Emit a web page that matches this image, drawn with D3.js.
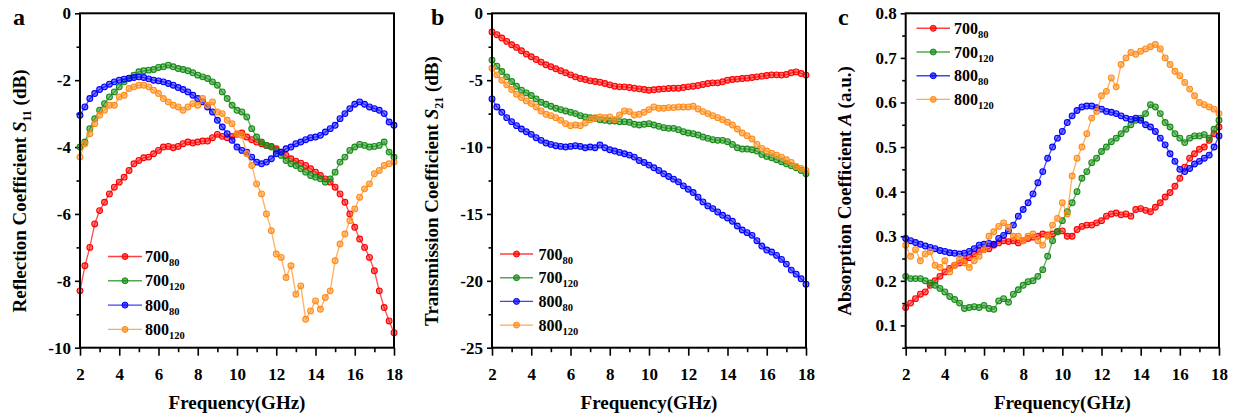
<!DOCTYPE html>
<html>
<head>
<meta charset="utf-8">
<script src="https://cdnjs.cloudflare.com/ajax/libs/d3/7.8.5/d3.min.js"></script>
<style>
  body { margin: 0; background: #fff; }
  svg text { font-family: "Liberation Serif", "Times New Roman", serif; font-weight: bold; fill: #000; }
</style>
</head>
<body>
<svg id="chart" width="1239" height="418"></svg>
<script>
// Frequency (GHz), read every 0.25 GHz
const freq = [
  2, 2.25, 2.5, 2.75, 3, 3.25, 3.5, 3.75, 4, 4.25, 4.5, 4.75, 5, 5.25, 5.5, 5.75,
  6, 6.25, 6.5, 6.75, 7, 7.25, 7.5, 7.75, 8, 8.25, 8.5, 8.75, 9, 9.25, 9.5, 9.75,
  10, 10.25, 10.5, 10.75, 11, 11.25, 11.5, 11.75, 12, 12.25, 12.5, 12.75, 13, 13.25, 13.5, 13.75,
  14, 14.25, 14.5, 14.75, 15, 15.25, 15.5, 15.75, 16, 16.25, 16.5, 16.75, 17, 17.25, 17.5, 17.75, 18
];

// (a) Reflection coefficient S11 (dB)
const s11_700_80 = [
  -8.3, -7.55, -7.0, -6.3,  -5.9, -5.65, -5.4, -5.2,  -5.05, -4.9, -4.7, -4.5,  -4.4, -4.32, -4.3, -4.2,
  -4.1, -4.0, -3.98, -4.02,  -3.98, -3.9, -3.85, -3.88,  -3.85, -3.82, -3.82, -3.72,  -3.62, -3.68, -3.72, -3.68,
  -3.62, -3.58, -3.7, -3.78,  -3.85, -3.9, -3.95, -3.98,  -4.05, -4.15, -4.25, -4.35,  -4.42, -4.48, -4.55, -4.65,
  -4.75, -4.85, -4.95, -5.05,  -5.2, -5.4, -5.65, -6.0,  -6.4, -6.75, -7.0, -7.3,  -7.7, -8.3, -8.8, -9.2,  -9.55
];
const s11_700_120 = [
  -4.0, -3.85, -3.45, -3.15,  -2.9, -2.7, -2.5, -2.35,  -2.2, -2.05, -1.95, -1.85,  -1.75, -1.72, -1.7, -1.68,
  -1.62, -1.6, -1.55, -1.6,  -1.65, -1.68, -1.72, -1.78,  -1.85, -1.9, -1.95, -2.05,  -2.15, -2.35, -2.55, -2.75,
  -2.9, -2.95, -3.1, -3.45,  -3.7, -3.85, -3.95, -4.0,  -4.1, -4.25, -4.4, -4.5,  -4.55, -4.65, -4.75, -4.85,
  -4.9, -4.95, -5.05, -4.95,  -4.75, -4.45, -4.3, -4.1,  -4.0, -3.92, -3.95, -4.0,  -3.98, -3.95, -3.85, -4.15,  -4.3
];
const s11_800_80 = [
  -3.05, -2.8, -2.55, -2.4,  -2.28, -2.2, -2.12, -2.05,  -2.0, -1.97, -1.94, -1.92,  -1.9, -1.92, -1.96, -2.0,
  -2.02, -2.05, -2.1, -2.15,  -2.22, -2.28, -2.35, -2.45,  -2.55, -2.65, -2.8, -2.95,  -3.2, -3.4, -3.6, -3.8,
  -4.0, -4.1, -4.15, -4.3,  -4.45, -4.5, -4.45, -4.35,  -4.2, -4.15, -4.05, -4.0,  -3.9, -3.85, -3.78, -3.72,
  -3.7, -3.65, -3.55, -3.45,  -3.35, -3.15, -3.0, -2.85,  -2.72, -2.65, -2.72, -2.8,  -2.85, -2.9, -3.0, -3.25,  -3.35
];
const s11_800_120 = [
  -4.3, -3.9, -3.6, -3.3,  -3.05, -2.9, -2.75, -2.75,  -2.5, -2.45, -2.25, -2.2,  -2.15, -2.15, -2.2, -2.3,
  -2.4, -2.55, -2.65, -2.75,  -2.8, -2.9, -2.8, -2.7,  -2.75, -2.55, -2.75, -2.65,  -2.95, -3.0, -3.2, -3.3,
  -3.6, -3.65, -4.2, -4.55,  -5.1, -5.4, -6.0, -6.5,  -7.2, -7.3, -7.9, -7.55,  -8.4, -8.15, -9.15, -8.9,
  -8.6, -8.85, -8.5, -8.3,  -7.4, -6.9, -6.6, -6.2,  -5.85, -5.5, -5.25, -5.1,  -4.8, -4.7, -4.55, -4.5,  -4.45
];

// (b) Transmission coefficient S21 (dB)
const s21_700_80 = [
  -1.4, -1.6, -1.85, -2.1,  -2.35, -2.55, -2.8, -3.05,  -3.25, -3.45, -3.65, -3.85,  -4.0, -4.15, -4.3, -4.45,
  -4.6, -4.75, -4.88, -4.95,  -5.05, -5.1, -5.15, -5.25,  -5.35, -5.45, -5.5, -5.5,  -5.55, -5.6, -5.65, -5.7,
  -5.75, -5.72, -5.68, -5.65,  -5.62, -5.6, -5.6, -5.55,  -5.5, -5.45, -5.4, -5.32,  -5.25, -5.2, -5.2, -5.12,
  -5.0, -4.95, -4.92, -4.88,  -4.85, -4.8, -4.75, -4.7,  -4.65, -4.6, -4.6, -4.62,  -4.58, -4.45, -4.38, -4.5,  -4.62
];
const s21_700_120 = [
  -3.5, -3.95, -4.35, -4.75,  -5.1, -5.45, -5.75, -5.95,  -6.15, -6.4, -6.65, -6.8,  -6.95, -7.1, -7.2, -7.3,
  -7.4, -7.5, -7.65, -7.75,  -7.8, -7.85, -7.95, -8.0,  -8.05, -8.05, -8.1, -8.1,  -8.15, -8.3, -8.35, -8.3,
  -8.25, -8.35, -8.45, -8.55,  -8.6, -8.6, -8.7, -8.85,  -8.95, -9.0, -9.1, -9.25,  -9.35, -9.45, -9.5, -9.5,
  -9.6, -9.8, -10.05, -10.15,  -10.15, -10.2, -10.3, -10.55,  -10.7, -10.8, -10.95, -11.1,  -11.25, -11.4, -11.55, -11.75,  -12.0
];
const s21_800_80 = [
  -6.4, -7.0, -7.4, -7.8,  -8.1, -8.4, -8.65, -8.85,  -9.05, -9.3, -9.5, -9.7,  -9.8, -9.9, -9.95, -10.0,
  -9.95, -9.9, -9.95, -10.05,  -10.0, -10.05, -9.85, -10.05,  -10.2, -10.3, -10.4, -10.5,  -10.6, -10.75, -11.0, -11.15,
  -11.35, -11.55, -11.75, -12.0,  -12.2, -12.4, -12.6, -12.9,  -13.15, -13.4, -13.75, -14.1,  -14.4, -14.6, -14.85, -15.1,
  -15.3, -15.55, -15.9, -16.2,  -16.4, -16.6, -17.0, -17.4,  -17.7, -17.85, -18.1, -18.4,  -18.75, -19.2, -19.5, -19.85,  -20.25
];
const s21_800_120 = [
  -4.1, -4.6, -5.0, -5.35,  -5.7, -6.05, -6.3, -6.55,  -6.75, -7.0, -7.3, -7.55,  -7.65, -7.8, -8.0, -8.25,
  -8.4, -8.35, -8.4, -8.2,  -7.95, -7.8, -7.75, -7.8,  -7.75, -7.95, -7.6, -7.3,  -7.35, -7.6, -7.55, -7.4,
  -7.2, -7.0, -7.1, -7.1,  -7.05, -7.05, -7.0, -7.0,  -7.0, -6.95, -7.15, -7.35,  -7.5, -7.65, -7.8, -7.95,
  -8.15, -8.35, -8.65, -8.95,  -9.15, -9.4, -9.8, -10.1,  -10.3, -10.45, -10.6, -10.75,  -10.95, -11.15, -11.45, -11.6,  -11.75
];

// (c) Absorption coefficient A (a.u.)
const abs_700_80 = [
  0.14, 0.15, 0.16, 0.17,  0.175, 0.19, 0.2, 0.21,  0.22, 0.228, 0.235, 0.24,  0.245, 0.252, 0.26, 0.266,
  0.27, 0.272, 0.28, 0.285,  0.29, 0.288, 0.29, 0.285,  0.29, 0.295, 0.298, 0.3,  0.305, 0.303, 0.305, 0.31,
  0.312, 0.3, 0.3, 0.315,  0.322, 0.325, 0.325, 0.33,  0.335, 0.345, 0.35, 0.352,  0.348, 0.35, 0.345, 0.36,
  0.362, 0.358, 0.355, 0.365,  0.375, 0.388, 0.398, 0.412,  0.43, 0.455, 0.475, 0.485,  0.495, 0.5, 0.515, 0.53,  0.545
];
const abs_700_120 = [
  0.21, 0.205, 0.205, 0.205,  0.2, 0.195, 0.19, 0.183,  0.175, 0.165, 0.158, 0.15,  0.138, 0.14, 0.142, 0.14,
  0.145, 0.138, 0.136, 0.155,  0.16, 0.152, 0.17, 0.18,  0.19, 0.198, 0.2, 0.21,  0.225, 0.255, 0.29, 0.31,
  0.335, 0.355, 0.375, 0.4,  0.43, 0.445, 0.465, 0.475,  0.49, 0.5, 0.512, 0.52,  0.53, 0.54, 0.55, 0.56,
  0.565, 0.575, 0.595, 0.59,  0.575, 0.555, 0.545, 0.53,  0.52, 0.51, 0.52, 0.525,  0.525, 0.528, 0.52, 0.54,  0.56
];
const abs_800_80 = [
  0.295, 0.29, 0.286, 0.282,  0.278, 0.275, 0.272, 0.268,  0.266, 0.263, 0.262, 0.26,  0.262, 0.266, 0.272, 0.28,
  0.282, 0.284, 0.282, 0.295,  0.302, 0.312, 0.325, 0.345,  0.36, 0.375, 0.395, 0.42,  0.445, 0.475, 0.5, 0.52,
  0.535, 0.555, 0.57, 0.582,  0.59, 0.592, 0.592, 0.588,  0.585, 0.58, 0.578, 0.575,  0.57, 0.565, 0.562, 0.565,
  0.56, 0.55, 0.545, 0.535,  0.52, 0.505, 0.485, 0.468,  0.45, 0.445, 0.452, 0.462,  0.468, 0.475, 0.482, 0.5,  0.525
];
const abs_800_120 = [
  0.28, 0.255, 0.27, 0.245,  0.26, 0.265, 0.235, 0.23,  0.245, 0.22, 0.235, 0.25,  0.24, 0.23, 0.245, 0.255,
  0.27, 0.3, 0.31, 0.322,  0.33, 0.32, 0.3, 0.3,  0.29, 0.3, 0.305, 0.29,  0.28, 0.3, 0.325, 0.34,
  0.375, 0.35, 0.435, 0.475,  0.5, 0.53, 0.565, 0.58,  0.615, 0.625, 0.655, 0.635,  0.685, 0.7, 0.712, 0.708,
  0.715, 0.72, 0.725, 0.73,  0.72, 0.7, 0.685, 0.67,  0.66, 0.645, 0.63, 0.615,  0.6, 0.595, 0.59, 0.585,  0.575
];

// legend labels and colours
const legendMain = ["700", "700", "800", "800"];
const legendSub = ["80", "120", "80", "120"];
const colors = ["#ff0000", "#168c16", "#0000ff", "#ff8c1a"];

// tick values
const xTicks = [2, 4, 6, 8, 10, 12, 14, 16, 18];
const xMinor = [3, 5, 7, 9, 11, 13, 15, 17];
const s11Ticks = [0, -2, -4, -6, -8, -10];
const s11Minor = [-1, -3, -5, -7, -9];
const s21Ticks = [0, -5, -10, -15, -20, -25];
const s21Minor = [-2.5, -7.5, -12.5, -17.5, -22.5];
const absTicks = [0.1, 0.2, 0.3, 0.4, 0.5, 0.6, 0.7, 0.8];
const absMinor = [0.05, 0.15, 0.25, 0.35, 0.45, 0.55, 0.65, 0.75];

const svg = d3.select("#chart");
svg.append("rect").attr("width", 1239).attr("height", 418).attr("fill", "#fff");

const panels = [
  { left: 80, right: 394, yDomain: [-10, 0], ticks: s11Ticks, minor: s11Minor,
    series: [s11_700_80, s11_700_120, s11_800_80, s11_800_120],
    tag: "a", tagX: 13, titleX: 26, title: ["Reflection Coefficient ", "S", "11", " (dB)"],
    legend: { x0: 108, x1: 142, tx: 145, y0: 256.5, dy: 24.3 } },
  { left: 492, right: 806, yDomain: [-25, 0], ticks: s21Ticks, minor: s21Minor,
    series: [s21_700_80, s21_700_120, s21_800_80, s21_800_120],
    tag: "b", tagX: 431, titleX: 438, title: ["Transmission Coefficient ", "S", "21", " (dB)"],
    legend: { x0: 500, x1: 533, tx: 538.5, y0: 254, dy: 23.7 } },
  { left: 905.7, right: 1219, yDomain: [0.05, 0.8], ticks: absTicks, minor: absMinor,
    series: [abs_700_80, abs_700_120, abs_800_80, abs_800_120],
    tag: "c", tagX: 838, titleX: 851, title: ["Absorption Coefficient ", "A", "", " (a.u.)"],
    legend: { x0: 916.5, x1: 950, tx: 954, y0: 28.3, dy: 23.7 } }
];
const plotTop = 13.3, plotBottom = 347.7;

panels.forEach(p => {
  const x = d3.scaleLinear().domain([2, 18]).range([p.left, p.right]);
  const y = d3.scaleLinear().domain(p.yDomain).range([plotBottom, plotTop]);
  const g = svg.append("g");

  // bottom axis: minor then major ticks
  g.append("g").attr("transform", `translate(0,${plotBottom})`)
    .call(d3.axisBottom(x).tickValues(xMinor).tickSize(4.5).tickFormat(""))
    .call(a => a.select(".domain").remove());
  g.append("g").attr("transform", `translate(0,${plotBottom})`)
    .call(d3.axisBottom(x).tickValues(xTicks).tickSize(8).tickPadding(12).tickFormat(d => String(d)))
    .call(a => a.select(".domain").remove())
    .attr("font-size", 17);

  // left axis
  g.append("g").attr("transform", `translate(${p.left},0)`)
    .call(d3.axisLeft(y).tickValues(p.minor).tickSize(3.5).tickFormat(""))
    .call(a => a.select(".domain").remove());
  g.append("g").attr("transform", `translate(${p.left},0)`)
    .call(d3.axisLeft(y).tickValues(p.ticks).tickSize(5).tickPadding(4).tickFormat(d => String(d)))
    .call(a => a.select(".domain").remove())
    .attr("font-size", 17);

  g.selectAll(".tick line").attr("stroke-width", 1.6);

  // curves
  p.series.forEach((vals, i) => {
    const pts = freq.map((f, j) => [f, vals[j]]);
    g.append("path")
      .datum(pts)
      .attr("fill", "none")
      .attr("stroke", colors[i])
      .attr("stroke-opacity", 0.7)
      .attr("stroke-width", 1.3)
      .attr("d", d3.line().x(d => x(d[0])).y(d => y(d[1])));
    g.append("g").selectAll("circle")
      .data(pts)
      .join("circle")
        .attr("cx", d => x(d[0]))
        .attr("cy", d => y(d[1]))
        .attr("r", 2.9)
        .attr("fill", colors[i])
        .attr("fill-opacity", 0.5)
        .attr("stroke", colors[i])
        .attr("stroke-width", 1.1);
  });

  // frame
  g.append("rect")
    .attr("x", p.left).attr("y", plotTop)
    .attr("width", p.right - p.left).attr("height", plotBottom - plotTop)
    .attr("fill", "none").attr("stroke", "#000").attr("stroke-width", 2);

  // legend
  const L = p.legend;
  legendMain.forEach((m, i) => {
    const ly = L.y0 + i * L.dy;
    g.append("line").attr("x1", L.x0).attr("x2", L.x1).attr("y1", ly).attr("y2", ly)
      .attr("stroke", colors[i]).attr("stroke-opacity", 0.75).attr("stroke-width", 1.4);
    g.append("circle").attr("cx", (L.x0 + L.x1) / 2).attr("cy", ly).attr("r", 3)
      .attr("fill", colors[i]).attr("fill-opacity", 0.7).attr("stroke", colors[i]);
    const t = g.append("text").attr("x", L.tx).attr("y", ly + 5.5).attr("font-size", 16);
    t.append("tspan").text(m);
    t.append("tspan").attr("font-size", 10.5).attr("dy", 4).text(legendSub[i]);
  });

  // panel tag
  g.append("text").attr("x", p.tagX).attr("y", 25).attr("font-size", 24).text(p.tag);

  // x title
  g.append("text")
    .attr("x", (p.left + p.right) / 2).attr("y", 409)
    .attr("text-anchor", "middle").attr("font-size", 19)
    .text("Frequency(GHz)");

  // y title
  const yt = g.append("text")
    .attr("transform", `translate(${p.titleX},${191}) rotate(-90)`)
    .attr("text-anchor", "middle").attr("font-size", 19);
  yt.append("tspan").text(p.title[0]);
  yt.append("tspan").attr("font-style", "italic").text(p.title[1]);
  if (p.title[2]) {
    yt.append("tspan").attr("font-size", 12).attr("dy", 5).text(p.title[2]);
    yt.append("tspan").attr("dy", -5).text(p.title[3]);
  } else {
    yt.append("tspan").text(p.title[3]);
  }
});
</script>
</body>
</html>
